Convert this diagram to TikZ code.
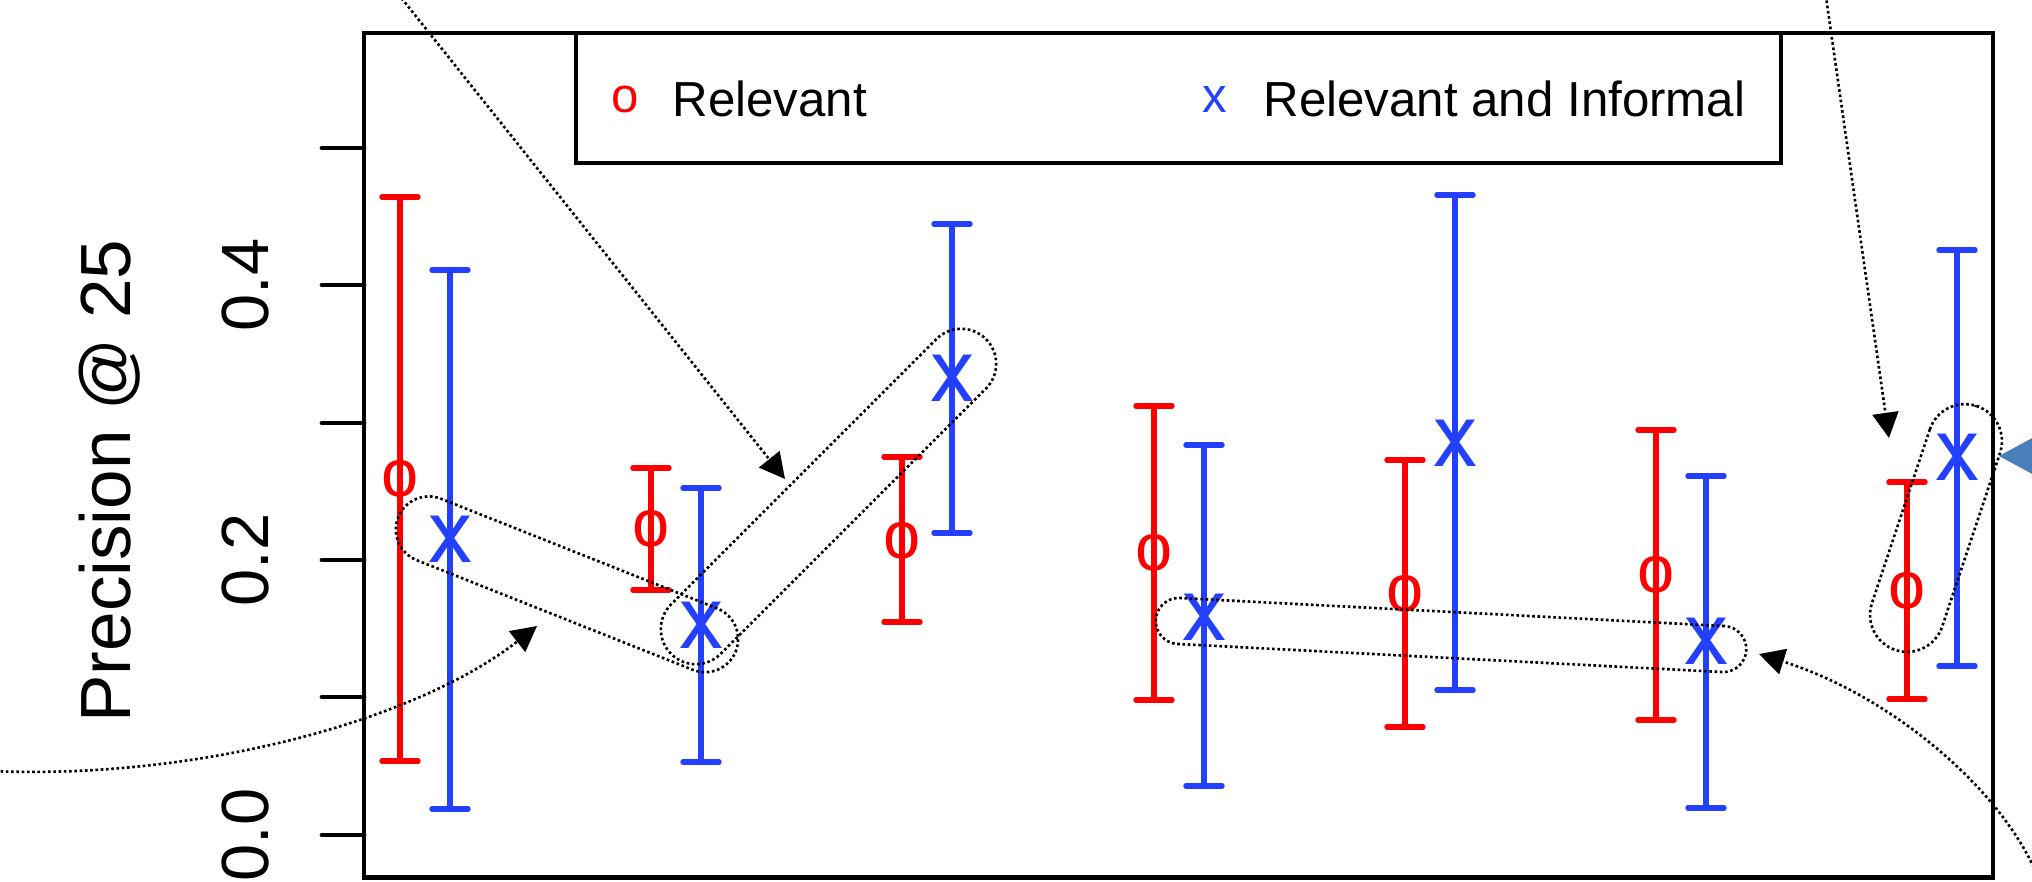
\documentclass[tikz,border=0pt]{standalone}
\usepackage{fontspec}
\setmainfont{Liberation Sans}
\usetikzlibrary{arrows.meta}
\definecolor{relred}{RGB}{255,0,0}
\definecolor{infblue}{RGB}{35,64,255}
\definecolor{calloutblue}{RGB}{74,126,187}
\begin{document}
\begin{tikzpicture}[x=0.01cm,y=-0.01cm,
  plotbox/.style={line width=1.4pt},
  relbar/.style={relred,line width=1.55pt,line cap=round},
  infbar/.style={infblue,line width=1.55pt,line cap=round},
  relpt/.style={text=relred,inner sep=0pt,font=\fontsize{19}{19}\selectfont},
  infpt/.style={text=infblue,inner sep=0pt,font=\fontsize{25}{25}\selectfont},
  legtext/.style={inner sep=0pt,font=\fontsize{14}{14}\selectfont},
  ticklab/.style={rotate=90,anchor=base,inner sep=0pt,font=\fontsize{19}{19}\selectfont},
  dotline/.style={line width=0.75pt,dash pattern=on 0.75pt off 0.75pt},
  pointer/.style={dotline,-{Triangle[length=7.2pt,width=7.4pt]}},
  capsule/.style={draw,dotline,inner sep=0pt}]
\useasboundingbox (0,0) rectangle (2032,881);
\draw[plotbox] (364,33) rectangle (1993,877.5);
\draw[plotbox,line cap=round] (322,148) -- (364,148) (322,285) -- (364,285) (322,423) -- (364,423)
  (322,560) -- (364,560) (322,697) -- (364,697) (322,835) -- (364,835);
\node[ticklab] (y0) at (268,835) {0.0};
\node[ticklab] (y2) at (268,560) {0.2};
\node[ticklab] (y4) at (268,285) {0.4};
\node[rotate=90,anchor=base,inner sep=0pt,font=\fontsize{20.2}{20.2}\selectfont] (ylabel) at (130,481) {Precision @ 25};

\draw[plotbox] (576,33) -- (576,163) -- (1781,163) -- (1781,33);
\node[legtext,text=relred] (keyo) at (625,99.5) {o};
\node[legtext,anchor=base west] (keyrel) at (672,116.7) {Relevant};
\node[legtext,text=infblue] (keyx) at (1215,99.5) {x};
\node[legtext,anchor=base west] (keyinf) at (1263,116.7) {Relevant and Informal};

\draw[relbar] (382,197) -- (418,197) (400,197) -- (400,761) (382,761) -- (418,761);
\draw[infbar] (432,270) -- (468,270) (450,270) -- (450,809) (432,809) -- (468,809);
\draw[relbar] (633,468) -- (669,468) (651,468) -- (651,590) (633,590) -- (669,590);
\draw[infbar] (683,488) -- (719,488) (701,488) -- (701,762) (683,762) -- (719,762);
\draw[relbar] (884,457) -- (920,457) (902,457) -- (902,622) (884,622) -- (920,622);
\draw[infbar] (934,224) -- (970,224) (952,224) -- (952,533) (934,533) -- (970,533);
\draw[relbar] (1136,406) -- (1172,406) (1154,406) -- (1154,700) (1136,700) -- (1172,700);
\draw[infbar] (1186,445) -- (1222,445) (1204,445) -- (1204,786) (1186,786) -- (1222,786);
\draw[relbar] (1387,460) -- (1423,460) (1405,460) -- (1405,727) (1387,727) -- (1423,727);
\draw[infbar] (1437,195) -- (1473,195) (1455,195) -- (1455,690) (1437,690) -- (1473,690);
\draw[relbar] (1638,430) -- (1674,430) (1656,430) -- (1656,720) (1638,720) -- (1674,720);
\draw[infbar] (1688,476) -- (1724,476) (1706,476) -- (1706,808) (1688,808) -- (1724,808);
\draw[relbar] (1889,482) -- (1925,482) (1907,482) -- (1907,699) (1889,699) -- (1925,699);
\draw[infbar] (1939,250) -- (1975,250) (1957,250) -- (1957,666) (1939,666) -- (1975,666);

\node[relpt] (r1) at (400,479) {o};
\node[infpt] (b1) at (450,539) {x};
\node[relpt] (r2) at (651,529) {o};
\node[infpt] (b2) at (701,625) {x};
\node[relpt] (r3) at (902,541) {o};
\node[infpt] (b3) at (952,378) {x};
\node[relpt] (r4) at (1154,553) {o};
\node[infpt] (b4) at (1204,617) {x};
\node[relpt] (r5) at (1405,594) {o};
\node[infpt] (b5) at (1455,443) {x};
\node[relpt] (r6) at (1656,575) {o};
\node[infpt] (b6) at (1706,641) {x};
\node[relpt] (r7) at (1907,591) {o};
\node[infpt] (b7) at (1957,457) {x};

\node[capsule,minimum width=3.63cm,minimum height=0.66cm,rounded corners=0.33cm,rotate=-21.66] (grp1) at (567,584.3) {};
\node[capsule,minimum width=4.45cm,minimum height=0.70cm,rounded corners=0.35cm,rotate=45] (grp2) at (828.5,496.5) {};
\node[capsule,minimum width=5.91cm,minimum height=0.46cm,rounded corners=0.23cm,rotate=-2.95] (grp3) at (1451,635) {};
\node[capsule,minimum width=2.57cm,minimum height=0.74cm,rounded corners=0.37cm,rotate=71.57] (grp4) at (1936,528) {};

\coordinate (n1s) at (395,-10);
\coordinate (n1e) at (785,479);
\coordinate (n2s) at (-10,771);
\coordinate (n2e) at (537,626);
\coordinate (n3s) at (1825,-10);
\coordinate (n3e) at (1889,438);
\coordinate (n4s) at (2040,882);
\coordinate (n4e) at (1759,654);
\draw[pointer] (n1s) -- (n1e);
\draw[pointer] (n2s) .. controls (200,780) and (417,720) .. (n2e);
\draw[pointer] (n3s) -- (n3e);
\draw[pointer] (n4s) .. controls (2005,790) and (1890,695) .. (n4e);

\fill[calloutblue] (1999,456) -- (2060,423) -- (2060,489) -- cycle;
\end{tikzpicture}
\end{document}
